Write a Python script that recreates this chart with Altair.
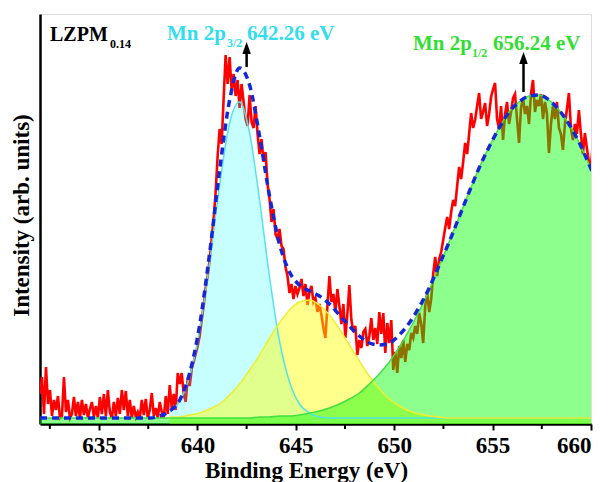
import altair as alt
import numpy as np
import pandas as pd

# ---------------- data ----------------
# energy grids (eV) on which the values below were read
red_energy = np.round(np.linspace(632.0, 660.4, 281), 3)
comp_energy = np.round(np.linspace(632.0, 660.4, 57), 3)

# measured spectrum (arb. units)
red_counts = [
    30, 47, 10, 57, 20, 34, 8, 24, 14, 28,
    6, 8, 47, 12, 24, 6, 10, 27, 8, 22,
    6, 24, 9, 20, 6, 15, 22, 7, 18, 6,
    27, 10, 30, 8, 34, 12, 6, 22, 8, 26,
    10, 34, 14, 33, 8, 24, 6, 18, 7, 12,
    6, 24, 9, 25, 6, 14, 31, 8, 16, 6,
    22, 12, 6, 28, 10, 39, 16, 30, 14, 51,
    40, 51, 30, 22, 45, 38, 55, 62, 70, 78,
    88, 104, 118, 136, 148, 164, 185, 205, 232, 268, 295,
    280, 325, 369, 340, 367, 334, 350, 328, 344, 316,
    340, 322, 305, 298, 329, 302, 296, 318, 290, 270,
    285, 262, 272, 240, 225, 202, 215, 190, 185, 195,
    178, 175, 157, 148, 131, 140, 125, 138, 130, 136,
    145, 128, 140, 119, 132, 138, 122, 126, 112, 120,
    109, 96, 86, 118, 148, 122, 130, 112, 135, 118,
    100, 120, 86, 110, 139, 104, 92, 98, 69, 84,
    76, 92, 95, 78, 88, 106, 84, 96, 80, 112,
    90, 111, 71, 101, 81, 104, 54, 72, 51, 78,
    66, 84, 62, 80, 74, 91, 86, 98, 90, 111,
    100, 81, 118, 131, 112, 125, 150, 167, 148, 165,
    172, 184, 196, 207, 195, 212, 224, 218, 238, 257,
    245, 262, 281, 270, 290, 311, 296, 304, 318, 331,
    305, 312, 321, 298, 310, 327, 335, 341, 305, 295,
    318, 284, 310, 322, 300, 312, 326, 330, 305, 281,
    316, 326, 310, 318, 300, 330, 344, 312, 324, 318,
    330, 305, 322, 310, 271, 300, 318, 305, 322, 296,
    290, 274, 300, 315, 331, 296, 284, 300, 290, 314,
    290, 270, 291, 276, 262, 257, 281, 272, 250, 254,
]

# fitted envelope (blue dashed)
fit_counts = [
    6, 6, 6, 6, 6, 6, 6, 6, 6, 6, 6, 6,
    8, 13, 24, 51, 99, 171, 254, 324, 356, 339,
    288, 228, 180, 152, 139, 133, 128, 120, 109, 98,
    88, 81, 79, 81, 89, 101, 117, 136, 159, 182,
    207, 232, 256, 277, 296, 312, 322, 328, 329, 324,
    314, 300, 282, 260, 237,
]

# Mn 2p3/2 component (cyan), starts at grid index 13
cyan_counts = [12, 23, 48, 94, 162, 239, 301, 322, 291, 224, 147, 83, 42, 20, 11, 7] + [6] * 28
# satellite component (yellow), starts at grid index 13
yellow_counts = [7, 7, 9, 11, 15, 20, 29, 40, 54, 69, 86, 101, 114, 122, 124, 119, 109, 95,
                 79, 63, 48, 35, 25, 18, 13, 10, 8, 7] + [6] * 16
# Mn 2p1/2 component (green), whole grid
green_counts = [6] * 22 + [7, 7, 8, 8, 9, 11, 13, 16, 20, 25, 31, 40, 50, 62, 77, 94, 113,
                           134, 158, 182, 207, 232, 256, 277, 296, 312, 322, 328, 329, 324,
                           314, 300, 282, 260, 237]

major_ticks = [635, 640, 645, 650, 655, 660]
minor_ticks = [632.5, 637.5, 642.5, 647.5, 652.5, 657.5]

arrow_energy = [642.5, 656.57]
arrow_low = [357, 332]
arrow_high = [370, 360]
arrow_head = [376, 366]

# ---------------- frames ----------------
red_df = pd.DataFrame({"energy": red_energy, "counts": red_counts})
fit_df = pd.DataFrame({"energy": comp_energy, "counts": fit_counts})
cyan_df = pd.DataFrame({"energy": comp_energy[13:13 + len(cyan_counts)], "counts": cyan_counts})
yellow_df = pd.DataFrame({"energy": comp_energy[13:13 + len(yellow_counts)], "counts": yellow_counts})
green_df = pd.DataFrame({"energy": comp_energy, "counts": green_counts})
minor_df = pd.DataFrame({"energy": minor_ticks})
arrow_df = pd.DataFrame({"energy": arrow_energy, "counts": arrow_low, "top": arrow_high, "head": arrow_head})

W, H = 551, 410
FONT = "Liberation Serif"
xs = alt.Scale(domain=[632, 660], nice=False, zero=False)
ys = alt.Scale(domain=[0, 410], nice=False, zero=False)

xaxis = alt.Axis(values=major_ticks, format="d", title="Binding Energy (eV)",
                 labelFont=FONT, labelFontSize=23, labelFontWeight="bold", labelColor="black",
                 titleFont=FONT, titleFontSize=23, titleFontWeight="bold", titleColor="black",
                 tickSize=6, tickWidth=2, tickColor="black", domainColor="black", domainWidth=2.5,
                 labelPadding=4, grid=False, titleX=266, titleY=53, titleBaseline="alphabetic",
                 titleAlign="center")
yaxis = alt.Axis(title="Intensity (arb. units)", labels=False, ticks=False, grid=False,
                 domainColor="black", domainWidth=2.5,
                 titleFont=FONT, titleFontSize=23, titleFontWeight="bold", titleColor="black",
                 titleX=-19, titleY=201, titleAngle=270, titleAlign="center", titleBaseline="middle")

X = alt.X("energy:Q", scale=xs)
Y = alt.Y("counts:Q", scale=ys)

red = alt.Chart(red_df).mark_line(color="#FF0000", strokeWidth=2.6, clip=True).encode(
    x=alt.X("energy:Q", scale=xs, axis=xaxis), y=alt.Y("counts:Q", scale=ys, axis=yaxis))


def component(df, fill, fop, edge):
    area = alt.Chart(df).mark_area(color=fill, fillOpacity=fop, strokeWidth=0,
                                   interpolate="monotone", clip=True).encode(x=X, y=Y)
    line = alt.Chart(df).mark_line(color=edge, strokeWidth=1.5,
                                   interpolate="monotone", clip=True).encode(x=X, y=Y)
    return area, line


cyan_a, cyan_l = component(cyan_df, "#00FFFF", 0.22, "#55E3E8")
yel_a, yel_l = component(yellow_df, "#FFFF00", 0.45, "#EEEE30")
grn_a, grn_l = component(green_df, "#00FF00", 0.45, "#44DD44")

fit = alt.Chart(fit_df).mark_line(color="#1428D8", strokeWidth=3.5, strokeDash=[7, 5],
                                   interpolate="monotone", clip=True).encode(x=X, y=Y)

minor = alt.Chart(minor_df).mark_rule(color="black", strokeWidth=2).encode(
    x=X, y=alt.value(H), y2=alt.value(H + 5))

shafts = alt.Chart(arrow_df).mark_rule(color="black", strokeWidth=2.5).encode(
    x=X, y=Y, y2="top:Q")
heads = alt.Chart(arrow_df).mark_point(shape="M0,-1L-0.7,1L0.7,1Z", filled=True, color="black",
                                       opacity=1, size=150).encode(
    x=X, y=alt.Y("head:Q", scale=ys))

notes = [
    ("LZPM", 10, 27, "black", 20),
    ("0.14", 70, 34, "black", 12),
    ("Mn 2p", 127, 26, "#33DDEE", 21),
    ("3/2", 187, 33, "#33DDEE", 12),
    ("642.26 eV", 207, 26, "#33DDEE", 21),
    ("Mn 2p", 373, 36, "#33DD33", 21),
    ("1/2", 432, 43, "#33DD33", 12),
    ("656.24 eV", 453, 36, "#33DD33", 21),
]
texts = []
one = pd.DataFrame({"k": [0]})
for label, px, py, col, fs in notes:
    texts.append(alt.Chart(one).mark_text(text=label, x=px, y=py, align="left", baseline="alphabetic",
                                          font=FONT, fontSize=fs, fontWeight="bold", color=col))

chart = alt.layer(red, cyan_a, yel_a, grn_a, cyan_l, yel_l, grn_l, fit, minor, shafts, heads,
                  *texts).properties(
    width=W, height=H, autosize="none",
    padding={"left": 40, "top": 14, "right": 20, "bottom": 58},
).configure_view(stroke="black", strokeWidth=2.5).configure(background="white")

chart.save("out.html", embed_options={"renderer": "svg", "actions": False})
